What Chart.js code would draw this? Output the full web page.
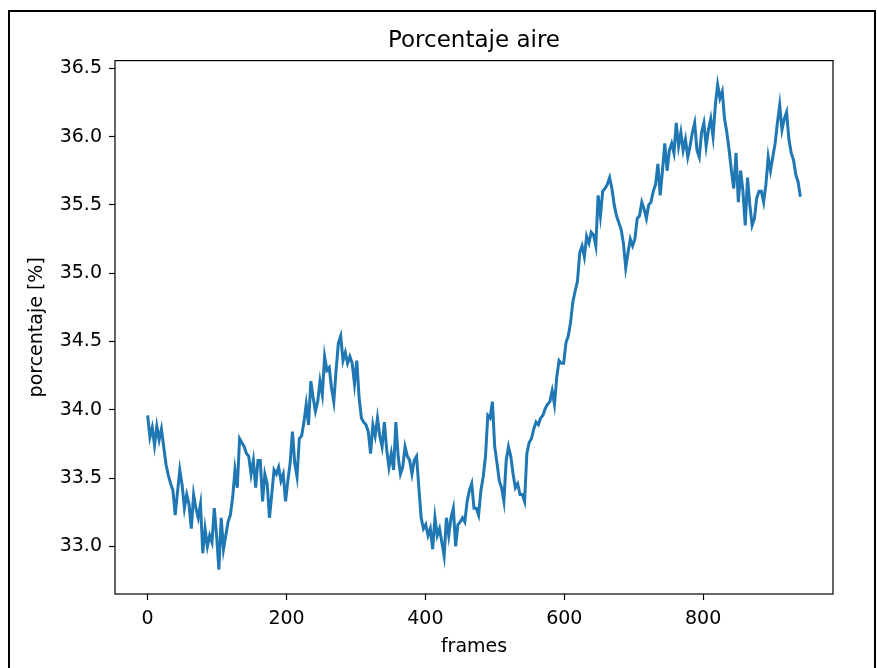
<!DOCTYPE html>
<html>
<head>
<meta charset="utf-8">
<script src="https://cdn.jsdelivr.net/npm/chart.js@4.4.1/dist/chart.umd.min.js"></script>
<style>
  html, body { margin: 0; padding: 0; background: #fff; }
  #wrap { position: relative; width: 877px; height: 668px; }
</style>
</head>
<body>
<div id="wrap"><canvas id="airChart" width="877" height="668"></canvas></div>
<script>
// Frames between two read samples of the curve
const frameStep = 3.31;

// Porcentaje de aire, every ~3.3 frames
const airPercent = [
  33.96, 33.80, 33.87, 33.74, 33.88, 33.78, 33.86, 33.73, 33.60, 33.52,
  33.46, 33.41, 33.23, 33.40, 33.56, 33.45, 33.28, 33.38, 33.31, 33.13,
  33.38, 33.28, 33.21, 33.31, 32.95, 33.13, 33.00, 33.08, 33.03, 33.28,
  33.08, 32.83, 33.21, 32.98, 33.08, 33.18, 33.23, 33.36, 33.56, 33.43,
  33.79, 33.76, 33.73, 33.68, 33.66, 33.53, 33.63, 33.43, 33.63, 33.63,
  33.33, 33.53, 33.46, 33.21, 33.38, 33.56, 33.53, 33.58, 33.48, 33.53,
  33.33, 33.48, 33.61, 33.84, 33.61, 33.51, 33.79, 33.81, 33.91, 34.04,
  33.89, 34.21, 34.09, 33.99, 34.06, 34.21, 34.11, 34.39, 34.29, 34.31,
  34.16, 34.06, 34.29, 34.49, 34.54, 34.36, 34.42, 34.34, 34.39, 34.34,
  34.19, 34.36, 34.09, 33.94, 33.91, 33.89, 33.84, 33.68, 33.89, 33.81,
  33.94, 33.81, 33.73, 33.91, 33.71, 33.58, 33.68, 33.56, 33.91, 33.66,
  33.53, 33.58, 33.73, 33.66, 33.63, 33.53, 33.63, 33.66, 33.43, 33.21,
  33.13, 33.16, 33.08, 33.13, 32.98, 33.21, 33.08, 33.13, 33.03, 32.93,
  33.21, 33.08, 33.21, 33.28, 33.00, 33.16, 33.18, 33.21, 33.18, 33.33,
  33.41, 33.46, 33.28, 33.28, 33.23, 33.41, 33.51, 33.66, 33.96, 33.94,
  34.06, 33.73, 33.61, 33.48, 33.43, 33.33, 33.63, 33.73, 33.66, 33.53,
  33.43, 33.46, 33.38, 33.38, 33.33, 33.68, 33.76, 33.79, 33.86, 33.91,
  33.89, 33.94, 33.96, 34.01, 34.04, 34.06, 34.14, 34.04, 34.24, 34.36,
  34.34, 34.34, 34.49, 34.54, 34.64, 34.79, 34.87, 34.94, 35.15, 35.20,
  35.12, 35.27, 35.22, 35.30, 35.28, 35.20, 35.57, 35.42, 35.60, 35.62,
  35.65, 35.70, 35.62, 35.50, 35.42, 35.37, 35.32, 35.22, 35.04, 35.15,
  35.25, 35.20, 35.25, 35.40, 35.42, 35.52, 35.47, 35.40, 35.50, 35.52,
  35.60, 35.65, 35.80, 35.57, 35.75, 35.95, 35.75, 35.90, 35.95, 35.88,
  36.10, 35.93, 36.03, 35.90, 35.98, 35.85, 35.93, 36.03, 36.10, 35.90,
  35.85, 36.03, 36.10, 35.93, 36.05, 36.13, 36.00, 36.23, 36.38, 36.28,
  36.33, 36.13, 36.03, 35.90, 35.75, 35.62, 35.88, 35.52, 35.75, 35.60,
  35.35, 35.70, 35.50, 35.35, 35.40, 35.55, 35.60, 35.60, 35.52, 35.65,
  35.85, 35.75, 35.85, 35.95, 36.10, 36.23, 36.05, 36.13, 36.18, 35.98,
  35.88, 35.83, 35.72, 35.67, 35.56
];

// Axis ticks and limits as shown on the reference
const xTicks = [0, 200, 400, 600, 800];
const yTicks = [33.0, 33.5, 34.0, 34.5, 35.0, 35.5, 36.0, 36.5];
const xLimits = [-47, 987];
const yLimits = [32.652, 36.556];

const lineBlue = '#1f77b4';
const fontFamily = "'DejaVu Sans', 'Liberation Sans', sans-serif";

// White page plus the dark screenshot frame and the axes box
const frameBox = {
  id: 'frameBox',
  beforeDraw(chart) {
    const ctx = chart.ctx;
    ctx.save();
    ctx.fillStyle = '#fff';
    ctx.fillRect(0, 0, chart.width, chart.height);
    ctx.strokeStyle = '#000';
    ctx.lineWidth = 2;
    ctx.beginPath();
    ctx.moveTo(9, chart.height + 2);
    ctx.lineTo(9, 11);
    ctx.lineTo(875, 11);
    ctx.lineTo(875, chart.height + 2);
    ctx.stroke();
    ctx.restore();
  },
  afterDatasetsDraw(chart) {
    const { ctx, chartArea } = chart;
    ctx.save();
    ctx.strokeStyle = '#000';
    ctx.lineWidth = 1.2;
    ctx.strokeRect(chartArea.left, chartArea.top,
      chartArea.right - chartArea.left, chartArea.bottom - chartArea.top);
    ctx.restore();
  }
};

function axisGrid() {
  return {
    drawOnChartArea: false,
    drawTicks: true,
    tickLength: 6,
    tickColor: '#000',
    tickWidth: 1.2
  };
}

const ctx = document.getElementById('airChart').getContext('2d');

new Chart(ctx, {
  type: 'line',
  data: {
    datasets: [{
      data: airPercent.map((v, i) => ({ x: i * frameStep, y: v })),
      borderColor: lineBlue,
      borderWidth: 3,
      pointRadius: 0,
      tension: 0,
      fill: false
    }]
  },
  options: {
    responsive: false,
    animation: false,
    layout: { padding: { top: 27, right: 44, bottom: 0, left: 0 } },
    plugins: {
      legend: { display: false },
      tooltip: { enabled: false },
      title: {
        display: true,
        text: 'Porcentaje aire',
        fullSize: false,
        color: '#000',
        font: { family: fontFamily, size: 23, weight: 'normal' },
        padding: { top: 0, bottom: 6 }
      }
    },
    scales: {
      x: {
        type: 'linear',
        min: xLimits[0],
        max: xLimits[1],
        afterBuildTicks: scale => { scale.ticks = xTicks.map(v => ({ value: v })); },
        afterFit: scale => { scale.height = 74; },
        grid: axisGrid(),
        border: { display: false },
        ticks: {
          color: '#000',
          padding: 8,
          maxRotation: 0,
          font: { family: fontFamily, size: 19 },
          callback: v => String(v)
        },
        title: {
          display: true,
          text: 'frames',
          color: '#000',
          font: { family: fontFamily, size: 19 },
          padding: { top: 0, bottom: 10 }
        }
      },
      y: {
        type: 'linear',
        min: yLimits[0],
        max: yLimits[1],
        afterBuildTicks: scale => { scale.ticks = yTicks.map(v => ({ value: v })); },
        afterFit: scale => { scale.width = 115; },
        grid: axisGrid(),
        border: { display: false },
        ticks: {
          color: '#000',
          padding: 7,
          font: { family: fontFamily, size: 19 },
          callback: v => Number(v).toFixed(1)
        },
        title: {
          display: true,
          text: 'porcentaje [%]',
          color: '#000',
          font: { family: fontFamily, size: 19 },
          padding: { top: 26, bottom: 0 }
        }
      }
    }
  },
  plugins: [frameBox]
});
</script>
</body>
</html>
